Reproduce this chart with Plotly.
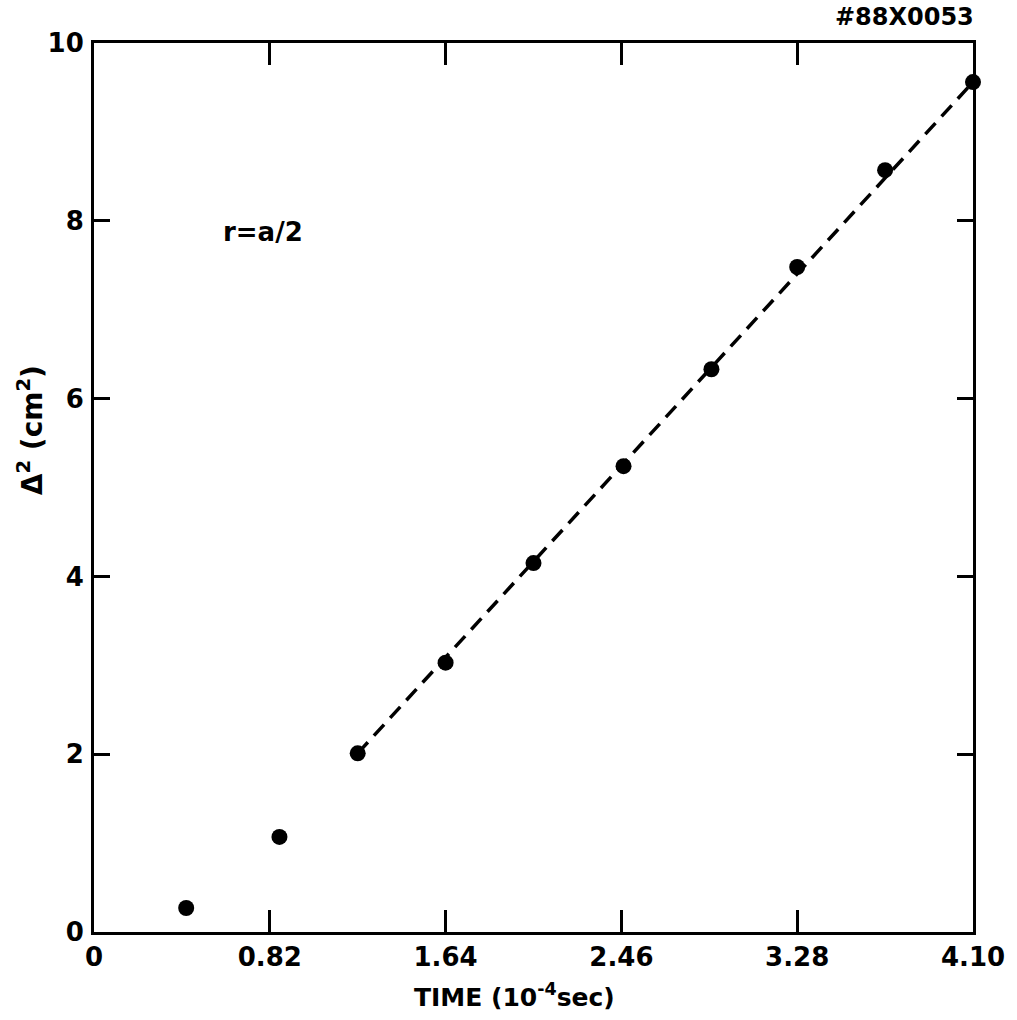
import plotly.graph_objects as go

# Data
time_pts = [0.43, 0.865, 1.23, 1.64, 2.05, 2.47, 2.88, 3.28, 3.69, 4.10]
delta_sq = [0.27, 1.07, 2.01, 3.03, 4.15, 5.24, 6.33, 7.48, 8.57, 9.56]

fit_x = [1.23, 4.10]
fit_y = [2.01, 9.56]

x_tickvals = [0, 0.82, 1.64, 2.46, 3.28, 4.10]
x_ticktext = ["0", "0.82", "1.64", "2.46", "3.28", "4.10"]
y_tickvals = [0, 2, 4, 6, 8, 10]
y_ticktext = ["0", "2", "4", "6", "8", "10"]

FONT = "DejaVu Sans"

fig = go.Figure()
fig.add_trace(go.Scatter(
    x=fit_x, y=fit_y, mode="lines",
    line=dict(color="black", width=3.5, dash="15px,9px"),
    showlegend=False, hoverinfo="skip"))
fig.add_trace(go.Scatter(
    x=time_pts, y=delta_sq, mode="markers",
    marker=dict(color="black", size=16),
    showlegend=False, cliponaxis=False))

axis_common = dict(
    showgrid=False, zeroline=False, showline=True, linecolor="black",
    linewidth=3, mirror="ticks", ticks="inside", tickcolor="black",
    tickwidth=3,
    tickfont=dict(family=FONT, size=26, color="black", weight="bold"),
)

fig.update_xaxes(range=[0, 4.10], tickvals=x_tickvals, ticktext=x_ticktext,
                 ticklen=22, **axis_common)
fig.update_yaxes(range=[0, 10], tickvals=y_tickvals, ticktext=y_ticktext,
                 ticklen=16, ticklabelstandoff=2, **axis_common)

fig.add_annotation(text="TIME (10<sup>-4</sup>sec)", xref="paper", yref="paper",
                   x=(516 - 94) / (976 - 94), y=-(995 - 932) / (932 - 43),
                   showarrow=False, xanchor="center", yanchor="middle",
                   font=dict(family=FONT, size=25, color="black", weight="bold"))
fig.add_annotation(text="Δ<sup>2</sup> (cm<sup>2</sup>)", xref="paper", yref="paper",
                   x=-(94 - 30) / (976 - 94), y=(932 - 430) / (932 - 43),
                   textangle=-90, showarrow=False, xanchor="center", yanchor="middle",
                   font=dict(family=FONT, size=28, color="black", weight="bold"))
fig.add_annotation(text="r=a/2", xref="x", yref="y", x=0.79, y=7.87,
                   showarrow=False, xanchor="center", yanchor="middle",
                   font=dict(family=FONT, size=26, color="black", weight="bold"))
fig.add_annotation(text="#88X0053", xref="paper", yref="paper",
                   x=1.003, y=1 + (43 - 17) / (932 - 43), xanchor="right", yanchor="middle",
                   showarrow=False,
                   font=dict(family=FONT, size=24, color="black", weight="bold"))

fig.update_layout(
    width=1017, height=1020,
    margin=dict(l=94, r=41, t=43, b=88),
    paper_bgcolor="white", plot_bgcolor="white",
    font=dict(family=FONT, color="black"),
)

fig.write_html("out.html")
